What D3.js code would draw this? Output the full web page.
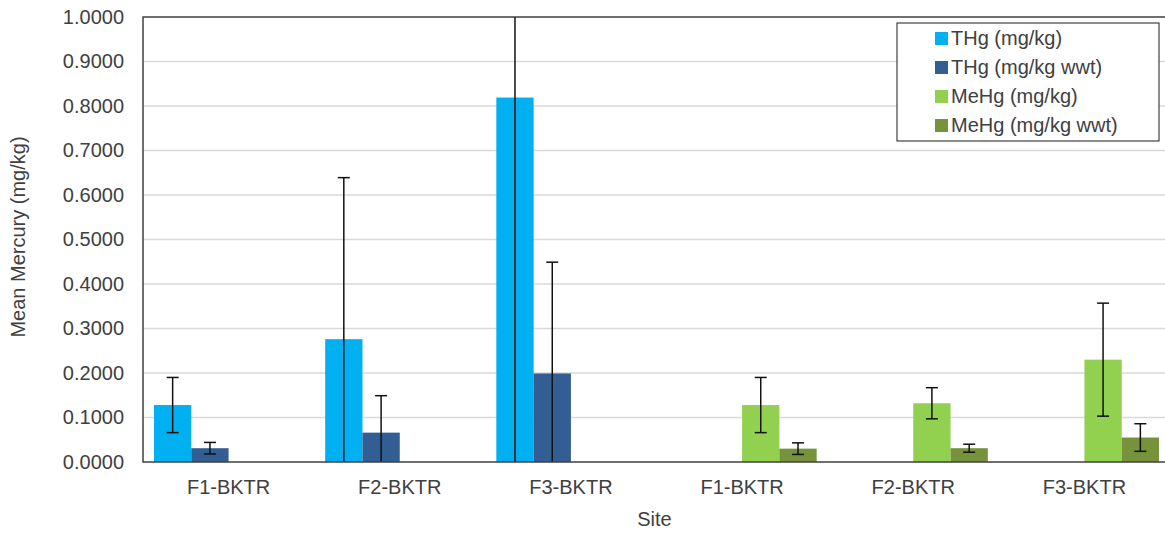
<!DOCTYPE html>
<html>
<head>
<meta charset="utf-8">
<script src="https://cdn.jsdelivr.net/npm/d3@7"></script>
<style>
  html, body { margin: 0; padding: 0; background: #fff; overflow: hidden; }
  svg { display: block; font-family: "Liberation Sans", Arial, sans-serif; }
</style>
</head>
<body>
<svg id="chart" width="1165" height="534"></svg>
<script>
// ---- data ----
const categories = ["F1-BKTR", "F2-BKTR", "F3-BKTR", "F1-BKTR", "F2-BKTR", "F3-BKTR"];
const seriesNames = ["THg (mg/kg)", "THg (mg/kg wwt)", "MeHg (mg/kg)", "MeHg (mg/kg wwt)"];
const seriesColors = ["#00B0F0", "#335E93", "#92D050", "#76933C"];
const thgValues    = [0.128, 0.276, 0.819, null, null, null];
const thgErrors    = [0.062, 0.363, 0.850, null, null, null];
const thgWwtValues = [0.031, 0.066, 0.199, null, null, null];
const thgWwtErrors = [0.013, 0.083, 0.250, null, null, null];
const mehgValues    = [null, null, null, 0.128, 0.132, 0.230];
const mehgErrors    = [null, null, null, 0.062, 0.035, 0.127];
const mehgWwtValues = [null, null, null, 0.030, 0.031, 0.055];
const mehgWwtErrors = [null, null, null, 0.013, 0.009, 0.031];
const yTicks = [0, 0.1, 0.2, 0.3, 0.4, 0.5, 0.6, 0.7, 0.8, 0.9, 1.0];
const xTitle = "Site";
const yTitle = "Mean Mercury (mg/kg)";

const seriesValues = [thgValues, thgWwtValues, mehgValues, mehgWwtValues];
const seriesErrors = [thgErrors, thgWwtErrors, mehgErrors, mehgWwtErrors];

// ---- layout ----
const svg = d3.select("#chart");
const plotLeft = 143, plotRight = 1170, plotTop = 17, plotBottom = 462;
const textColor = "#404040";

const x0 = d3.scaleBand().domain(d3.range(categories.length)).range([plotLeft, plotRight]).paddingInner(0).paddingOuter(0);
const gap = 22;
const x1 = d3.scaleBand().domain(d3.range(seriesNames.length)).range([gap / 2, x0.bandwidth() - gap / 2]).padding(0);
const y = d3.scaleLinear().domain([0, 1]).range([plotBottom, plotTop]);

// gridlines
svg.append("g").selectAll("line").data(yTicks.filter(t => t > 0 && t < 1)).join("line")
  .attr("x1", plotLeft).attr("x2", plotRight)
  .attr("y1", d => y(d)).attr("y2", d => y(d))
  .attr("stroke", "#d9d9d9").attr("stroke-width", 1.5);

// bars
const barData = [];
seriesValues.forEach((vals, s) => vals.forEach((v, c) => {
  if (v != null) barData.push({ s, c, v, e: seriesErrors[s][c] });
}));

svg.append("g").selectAll("rect").data(barData).join("rect")
  .attr("x", d => x0(d.c) + x1(d.s))
  .attr("width", x1.bandwidth())
  .attr("y", d => y(d.v))
  .attr("height", d => y(0) - y(d.v))
  .attr("fill", d => seriesColors[d.s]);

// error bars
const eg = svg.append("g").attr("stroke", "#111").attr("stroke-width", 1.5).attr("fill", "none");
const capHalf = 6;
barData.forEach(d => {
  const cx = x0(d.c) + x1(d.s) + x1.bandwidth() / 2;
  const hi = d.v + d.e, lo = d.v - d.e;
  const hiC = Math.min(hi, 1), loC = Math.max(lo, 0);
  eg.append("line").attr("x1", cx).attr("x2", cx).attr("y1", y(hiC)).attr("y2", y(loC));
  if (hi <= 1) eg.append("line").attr("x1", cx - capHalf).attr("x2", cx + capHalf).attr("y1", y(hi)).attr("y2", y(hi));
  if (lo >= 0) eg.append("line").attr("x1", cx - capHalf).attr("x2", cx + capHalf).attr("y1", y(lo)).attr("y2", y(lo));
});

// frame
svg.append("rect").attr("x", plotLeft).attr("y", plotTop)
  .attr("width", plotRight - plotLeft).attr("height", plotBottom - plotTop)
  .attr("fill", "none").attr("stroke", "#404040").attr("stroke-width", 1.5);

// y axis
const yAxis = d3.axisLeft(y).tickValues(yTicks).tickFormat(d3.format(".4f")).tickSize(0).tickPadding(19);
const yg = svg.append("g").attr("transform", `translate(${plotLeft},0)`).call(yAxis);
yg.select(".domain").remove();
yg.selectAll("text").attr("font-size", 20).attr("fill", textColor)
  .attr("font-family", "Liberation Sans, Arial, sans-serif");

// x axis
const xAxis = d3.axisBottom(x0).tickFormat(i => categories[i]).tickSize(0).tickPadding(18);
const xg = svg.append("g").attr("transform", `translate(0,${plotBottom})`).call(xAxis);
xg.select(".domain").remove();
xg.selectAll("text").attr("font-size", 20).attr("fill", textColor)
  .attr("font-family", "Liberation Sans, Arial, sans-serif");

// titles
svg.append("text").attr("x", (plotLeft + plotRight) / 2 - 2).attr("y", 526)
  .attr("text-anchor", "middle").attr("font-size", 20).attr("fill", textColor).text(xTitle);
svg.append("text").attr("transform", "translate(25,237) rotate(-90)")
  .attr("text-anchor", "middle").attr("font-size", 20).attr("fill", textColor).text(yTitle);

// legend
const lg = svg.append("g");
lg.append("rect").attr("x", 897).attr("y", 23).attr("width", 262).attr("height", 118)
  .attr("fill", "#fff").attr("stroke", "#404040").attr("stroke-width", 1.2);
const rowY = d3.scalePoint().domain(d3.range(seriesNames.length)).range([38, 125]);
seriesNames.forEach((name, i) => {
  lg.append("rect").attr("x", 935).attr("y", rowY(i) - 6).attr("width", 13).attr("height", 13)
    .attr("fill", seriesColors[i]);
  lg.append("text").attr("x", 951).attr("y", rowY(i)).attr("dy", "0.35em")
    .attr("font-size", 20).attr("fill", textColor).text(name);
});
</script>
</body>
</html>
